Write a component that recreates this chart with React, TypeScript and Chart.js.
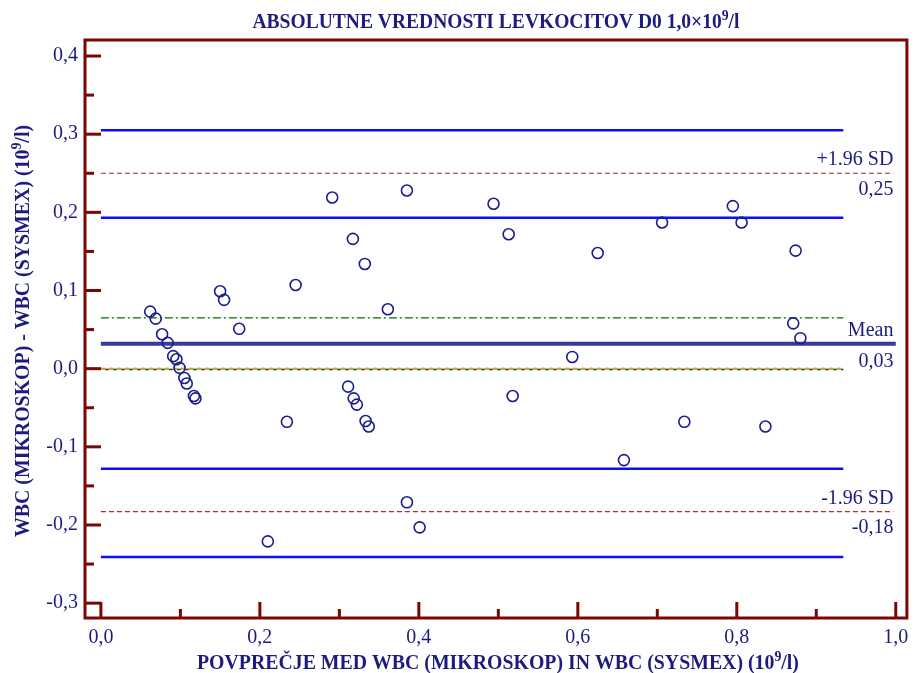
import { useEffect, useRef } from "react";
import { Chart, registerables } from "chart.js";

Chart.register(...registerables);

const WIDTH = 914;
const HEIGHT = 673;

// Average of the two methods (x) and their difference (y), 10^9/l
const avgWbc = [
  0.062, 0.069, 0.077, 0.084, 0.091, 0.095, 0.099, 0.105, 0.108, 0.117, 0.119,
  0.15, 0.155, 0.174, 0.234, 0.21, 0.245, 0.291, 0.317, 0.332, 0.311, 0.318,
  0.322, 0.333, 0.337, 0.361, 0.385, 0.385, 0.401, 0.494, 0.513, 0.518, 0.593,
  0.625, 0.658, 0.706, 0.734, 0.795, 0.806, 0.836, 0.874, 0.871, 0.88,
];
const diffWbc = [
  0.073, 0.064, 0.044, 0.033, 0.016, 0.012, 0.001, -0.012, -0.019, -0.035, -0.038,
  0.099, 0.088, 0.051, -0.068, -0.221, 0.107, 0.219, 0.166, 0.134, -0.023, -0.038,
  -0.046, -0.067, -0.074, 0.076, 0.228, -0.171, -0.203, 0.211, 0.172, -0.035, 0.015,
  0.148, -0.117, 0.187, -0.068, 0.208, 0.187, -0.074, 0.151, 0.058, 0.039,
];

// Axis ticks
const xTicks = [0, 0.2, 0.4, 0.6, 0.8, 1.0];
const xMinorTicks = [0.1, 0.3, 0.5, 0.7, 0.9];
const yTicks = [-0.3, -0.2, -0.1, 0, 0.1, 0.2, 0.3, 0.4];
const yMinorTicks = [-0.25, -0.15, -0.05, 0.05, 0.15, 0.25, 0.35];

// Bland-Altman statistics
const meanDiff = 0.032;
const meanCi = [-0.001, 0.065];
const upperLoa = 0.25;
const upperLoaCi = [0.193, 0.305];
const lowerLoa = -0.183;
const lowerLoaCi = [-0.241, -0.128];
const zeroDiff = 0;

// Horizontal extent of the reference lines
const ciEndX = 0.934;
const loaEndX = 0.997;
const meanEndX = 1.0;

const xRange = [-0.02, 1.014];
const yRange = [-0.319, 0.4205];

type Run = { t: string; sup?: boolean };
const titleText: Run[] = [
  { t: "ABSOLUTNE VREDNOSTI LEVKOCITOV D0 1,0×10" },
  { t: "9", sup: true },
  { t: "/l" },
];
const xTitleText: Run[] = [
  { t: "POVPREČJE MED WBC (MIKROSKOP) IN WBC (SYSMEX) (10" },
  { t: "9", sup: true },
  { t: "/l)" },
];
const yTitleText: Run[] = [
  { t: "WBC (MIKROSKOP) - WBC (SYSMEX) (10" },
  { t: "9", sup: true },
  { t: "/l)" },
];

const SERIF = '"Liberation Serif", "Times New Roman", serif';
const NAVY = "#1b1b80";
const AXIS_RED = "#7a0606";

const fmt1 = (v: number) => v.toFixed(1).replace(".", ",");
const fmt2 = (v: number) => v.toFixed(2).replace(".", ",");

function drawRich(
  ctx: CanvasRenderingContext2D,
  runs: Run[],
  cx: number,
  cy: number,
  size: number,
  fitWidth: number,
  rotate: boolean
) {
  const mainFont = `bold ${size}px ${SERIF}`;
  const supFont = `bold ${Math.round(size * 0.68)}px ${SERIF}`;
  const widths = runs.map((r) => {
    ctx.font = r.sup ? supFont : mainFont;
    return ctx.measureText(r.t).width;
  });
  const total = widths.reduce((a, b) => a + b, 0);
  const sx = Math.min(1.12, Math.max(0.88, fitWidth / total));
  ctx.save();
  ctx.translate(cx, cy);
  if (rotate) ctx.rotate(-Math.PI / 2);
  ctx.scale(sx, 1);
  ctx.fillStyle = NAVY;
  ctx.textBaseline = "alphabetic";
  ctx.textAlign = "left";
  let x = -total / 2;
  runs.forEach((r, i) => {
    ctx.font = r.sup ? supFont : mainFont;
    ctx.fillText(r.t, x, r.sup ? -size * 0.42 : 0);
    x += widths[i];
  });
  ctx.restore();
}

const decorPlugin = {
  id: "blandAltmanDecor",
  afterDraw(chart: any) {
    const { ctx, chartArea: a, scales } = chart;
    const xs = scales.x;
    const ys = scales.y;
    ctx.save();

    // Plot frame
    ctx.strokeStyle = AXIS_RED;
    ctx.lineWidth = 3;
    ctx.strokeRect(a.left, a.top, a.right - a.left, a.bottom - a.top);

    // Inward tick marks
    ctx.lineCap = "butt";
    const tick = (x1: number, y1: number, x2: number, y2: number) => {
      ctx.beginPath();
      ctx.moveTo(x1, y1);
      ctx.lineTo(x2, y2);
      ctx.stroke();
    };
    yTicks.forEach((v) => {
      const y = ys.getPixelForValue(v);
      tick(a.left, y, a.left + 16, y);
    });
    yMinorTicks.forEach((v) => {
      const y = ys.getPixelForValue(v);
      tick(a.left, y, a.left + 9, y);
    });
    xTicks.forEach((v) => {
      const x = xs.getPixelForValue(v);
      tick(x, a.bottom, x, a.bottom - 16);
    });
    xMinorTicks.forEach((v) => {
      const x = xs.getPixelForValue(v);
      tick(x, a.bottom, x, a.bottom - 9);
    });

    // Labels at the right end of the agreement lines
    ctx.fillStyle = NAVY;
    ctx.font = `20px ${SERIF}`;
    ctx.textAlign = "right";
    ctx.textBaseline = "alphabetic";
    const rx = xs.getPixelForValue(loaEndX);
    const lbl = (name: string, v: number, lw: number) => {
      const y = ys.getPixelForValue(v);
      ctx.fillText(name, rx, y - 8);
      ctx.fillText(fmt2(v), rx, y + 21 + lw / 2);
    };
    lbl("+1.96 SD", upperLoa, 1.2);
    lbl("Mean", meanDiff, 4);
    lbl("-1.96 SD", lowerLoa, 1.2);

    // Titles
    const midX = (a.left + a.right) / 2;
    const midY = (a.top + a.bottom) / 2;
    drawRich(ctx, titleText, midX, 28, 20, 487, false);
    drawRich(ctx, xTitleText, midX + 2, 669, 20, 602, false);
    drawRich(ctx, yTitleText, 29, midY + 2, 20, 412, true);

    ctx.restore();
  },
};

function hLine(
  y: number,
  x0: number,
  x1: number,
  color: string,
  width: number,
  dash: number[] = [],
  dashOffset = 0
) {
  return {
    type: "scatter" as const,
    data: [
      { x: x0, y },
      { x: x1, y },
    ],
    showLine: true,
    pointRadius: 0,
    borderColor: color,
    backgroundColor: color,
    borderWidth: width,
    borderDash: dash,
    borderDashOffset: dashOffset,
  };
}

export default function App() {
  const canvasRef = useRef<HTMLCanvasElement | null>(null);

  useEffect(() => {
    document.body.style.margin = "0";
    const canvas = canvasRef.current;
    if (!canvas) return;

    const tickFont = { family: SERIF, size: 20 };
    const BLUE = "#0c0cff";
    const RED_DASH = "#b02a2a";
    const GREEN = "#006e00";
    const ORANGE = "#f0803c";

    const chart = new Chart(canvas, {
      type: "scatter",
      data: {
        datasets: [
          {
            data: avgWbc.map((x, i) => ({ x, y: diffWbc[i] })),
            pointRadius: 5.5,
            pointBorderWidth: 1.6,
            pointBorderColor: "#1c1c8c",
            pointBackgroundColor: "rgba(0,0,0,0)",
            showLine: false,
          } as any,
          hLine(meanDiff, 0, meanEndX, "#3a3a9c", 4),
          hLine(upperLoa, 0, loaEndX, RED_DASH, 1.2, [5, 3]),
          hLine(lowerLoa, 0, loaEndX, RED_DASH, 1.2, [5, 3]),
          hLine(zeroDiff, 0, ciEndX, ORANGE, 2, [4, 4]),
          hLine(meanCi[1], 0, ciEndX, GREEN, 1.2, [8, 3, 2, 3]),
          hLine(meanCi[0], 0, ciEndX, GREEN, 1.6, [4, 4], 4),
          hLine(upperLoaCi[0], 0, ciEndX, BLUE, 2.5),
          hLine(upperLoaCi[1], 0, ciEndX, BLUE, 2.5),
          hLine(lowerLoaCi[0], 0, ciEndX, BLUE, 2.5),
          hLine(lowerLoaCi[1], 0, ciEndX, BLUE, 2.5),
        ],
      },
      options: {
        responsive: false,
        animation: false,
        devicePixelRatio: 1,
        layout: { padding: { top: 40, right: 4, left: 0, bottom: 0 } },
        plugins: {
          legend: { display: false },
          tooltip: { enabled: false },
          title: { display: false },
        },
        scales: {
          x: {
            type: "linear",
            min: xRange[0],
            max: xRange[1],
            grid: { display: false, drawTicks: false },
            border: { display: false },
            ticks: {
              font: tickFont,
              color: NAVY,
              padding: 8,
              autoSkip: false,
              maxRotation: 0,
              callback: (v: any) => fmt1(Number(v)),
            },
            afterBuildTicks: (s: any) => {
              s.ticks = xTicks.map((value) => ({ value }));
            },
            afterFit: (s: any) => {
              s.height = 55;
              s.paddingLeft = 0;
              s.paddingRight = 0;
            },
          },
          y: {
            type: "linear",
            min: yRange[0],
            max: yRange[1],
            grid: { display: false, drawTicks: false },
            border: { display: false },
            ticks: {
              font: tickFont,
              color: NAVY,
              padding: 7,
              autoSkip: false,
              callback: (v: any) => fmt1(Number(v)),
            },
            afterBuildTicks: (s: any) => {
              s.ticks = yTicks.map((value) => ({ value }));
            },
            afterFit: (s: any) => {
              s.width = 85;
              s.paddingTop = 0;
              s.paddingBottom = 0;
            },
          },
        },
      } as any,
      plugins: [decorPlugin],
    });

    return () => chart.destroy();
  }, []);

  return (
    <div style={{ width: WIDTH, height: HEIGHT, background: "#fff" }}>
      <canvas ref={canvasRef} width={WIDTH} height={HEIGHT} style={{ display: "block" }} />
    </div>
  );
}
